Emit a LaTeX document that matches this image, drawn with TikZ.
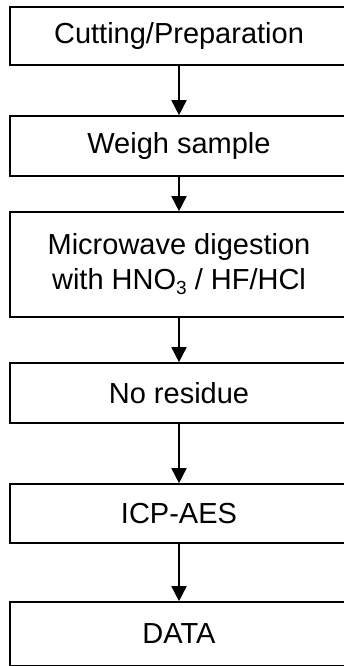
\documentclass[tikz,border=0pt]{standalone}
\usepackage{fontspec}
\setmainfont{Liberation Sans}
\usetikzlibrary{arrows.meta}

\newcommand{\lowsub}[1]{\raisebox{-5pt}{\fontsize{19}{19}\selectfont #1}}

\begin{document}
\begin{tikzpicture}[x=1pt,y=1pt,
    stepbox/.style={draw,line width=1.6pt,minimum width=338pt,align=center,
      font=\fontsize{29}{35}\selectfont,inner sep=0pt},
    flow/.style={line width=1.6pt,-{Triangle[length=15pt,width=15pt]}}]
        \useasboundingbox (0,0) rectangle (344,666);
        \clip (0,0) rectangle (344,666);
        \node[stepbox,minimum height=58pt] (cut) at (179,630) {Cutting/Preparation};
        \node[stepbox,minimum height=60pt] (weigh) at (179,520) {Weigh sample};
        \node[stepbox,minimum height=105pt] (digest) at (179,401.5) {Microwave digestion\\with HNO\lowsub{3} / HF/HCl};
        \node[stepbox,minimum height=60pt] (residue) at (179,273) {No residue};
        \node[stepbox,minimum height=59pt] (icp) at (179,152.5) {ICP-AES};
        \node[stepbox,minimum height=64pt] (data) at (179,32) {DATA};
        \draw[flow] (cut) -- (weigh);
        \draw[flow] (weigh) -- (digest);
        \draw[flow] (digest) -- (residue);
        \draw[flow] (residue) -- (icp);
        \draw[flow] (icp) -- (data);
      \end{tikzpicture}
\end{document}
